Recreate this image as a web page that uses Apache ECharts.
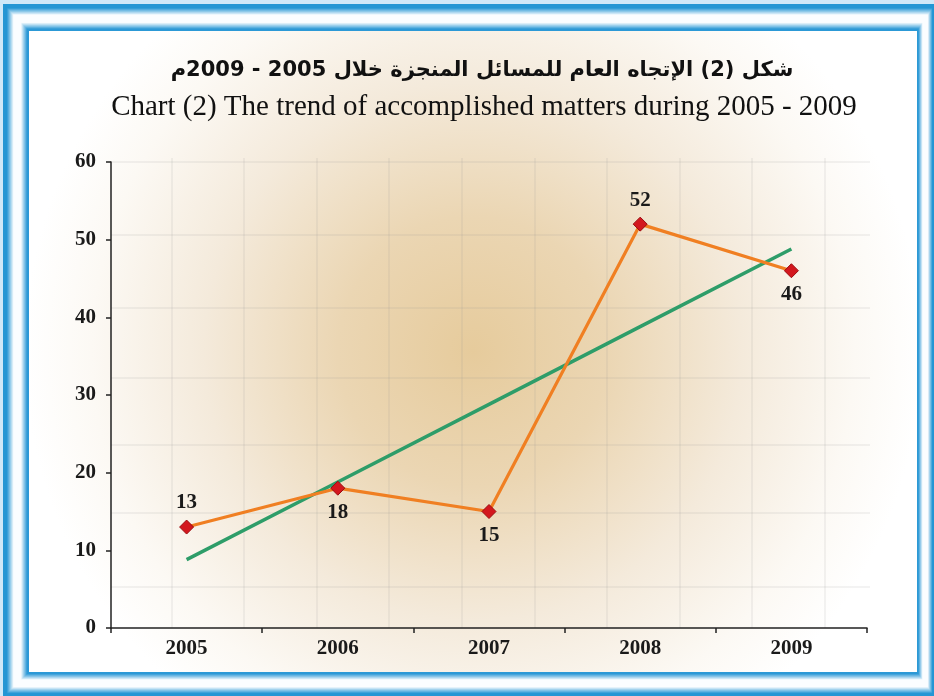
<!DOCTYPE html>
<html>
<head>
<meta charset="utf-8">
<script src="https://cdn.jsdelivr.net/npm/echarts@6/dist/echarts.min.js"></script>
<style>
html,body{margin:0;padding:0;background:#cfe8f8;}
#chart{width:934px;height:696px;}
</style>
</head>
<body>
<div id="chart"></div>
<script>
// ---- data ----
const years = ['2005', '2006', '2007', '2008', '2009'];
const accomplished = [13, 18, 15, 52, 46];
const trend = [8.8, 18.8, 28.8, 38.8, 48.8];
const yTicks = { min: 0, max: 60, interval: 10 };
const titleAr = 'شكل (2) الإتجاه العام للمسائل المنجزة خلال 2005 - 2009م';
const titleEn = 'Chart (2) The trend of accomplished matters during 2005 - 2009';

// ---- decoration ----
const chart = echarts.init(document.getElementById('chart'), null, { renderer: 'canvas' });
const graphics = [];

function lerp(a, b, t) { return a + (b - a) * t; }
function mix(c1, c2, t) {
  const p = c => [parseInt(c.slice(1,3),16), parseInt(c.slice(3,5),16), parseInt(c.slice(5,7),16)];
  const a = p(c1), b = p(c2);
  return 'rgb(' + a.map((v, i) => Math.round(lerp(v, b[i], t))).join(',') + ')';
}
function profile(t) {
  const blue = '#2596d4', white = '#fbfdff';
  if (t < 0.14) return blue;
  if (t < 0.40) return mix(blue, white, (t - 0.14) / 0.26);
  if (t < 0.68) return white;
  if (t < 0.92) return mix(white, '#2d99d6', (t - 0.68) / 0.24);
  return '#2d99d6';
}
const N = 60;
for (let i = 0; i <= N; i++) {
  const t = i / N;
  const l = lerp(3, 29, t), tp = lerp(4, 31, t), r = lerp(935, 917, t), b = lerp(697, 672, t);
  graphics.push({ type: 'rect', z: -20, silent: true,
    shape: { x: l, y: tp, width: r - l, height: b - tp },
    style: { fill: profile(t) } });
}
// inner radial glow
graphics.push({ type: 'rect', z: -19, silent: true,
  shape: { x: 29, y: 31, width: 888, height: 641 },
  style: { fill: { type: 'radial', x: 0.5, y: 0.5, r: 0.7,
    colorStops: [
      { offset: 0, color: '#e6cb9c' },
      { offset: 0.3, color: '#ebd6b3' },
      { offset: 0.6, color: '#f4eadb' },
      { offset: 0.85, color: '#fcf9f4' },
      { offset: 1, color: '#ffffff' }] } } });
// faint background paper grid
const gx = [172, 244, 317, 389, 462, 535, 607, 680, 752, 825];
const gy = [162, 235, 308, 378, 445, 513, 587];
gx.forEach(x => graphics.push({ type: 'line', z: -18, silent: true,
  shape: { x1: x, y1: 158, x2: x, y2: 628 }, style: { stroke: 'rgba(150,150,150,0.11)', lineWidth: 2 } }));
gy.forEach(y => graphics.push({ type: 'line', z: -18, silent: true,
  shape: { x1: 111, y1: y, x2: 870, y2: y }, style: { stroke: 'rgba(150,150,150,0.11)', lineWidth: 2 } }));
// titles
graphics.push({ type: 'text', z: 10, x: 482, y: 71, style: { text: titleAr, fill: '#111',
  font: 'bold 21px "DejaVu Sans"', align: 'center', verticalAlign: 'middle' } });
graphics.push({ type: 'text', z: 10, x: 484, y: 107, style: { text: titleEn, fill: '#111',
  font: '29px "Liberation Serif"', align: 'center', verticalAlign: 'middle' } });

const labelFont = { fontFamily: 'Liberation Serif', fontWeight: 'bold', fontSize: 21, color: '#1a1a1a' };
const below = [false, true, true, false, true];

const option = {
  animation: false,
  graphic: graphics,
  grid: { left: 111, right: 67, top: 162, bottom: 68, containLabel: false },
  xAxis: {
    type: 'category', data: years, boundaryGap: true,
    axisLine: { lineStyle: { color: '#222', width: 1.5 } },
    axisTick: { show: true, length: 5, lineStyle: { color: '#222', width: 1.5 } },
    axisLabel: Object.assign({ margin: 10 }, labelFont),
    splitLine: { show: false }
  },
  yAxis: {
    type: 'value', min: yTicks.min, max: yTicks.max, interval: yTicks.interval,
    axisLine: { show: true, lineStyle: { color: '#222', width: 1.5 } },
    axisTick: { show: true, length: 5, lineStyle: { color: '#222', width: 1.5 } },
    axisLabel: Object.assign({ margin: 15 }, labelFont),
    splitLine: { show: false }
  },
  series: [
    { type: 'line', name: 'trend', data: trend, symbol: 'none', z: 2,
      lineStyle: { color: '#2e9d69', width: 3.5 } },
    { type: 'line', name: 'accomplished', z: 3,
      data: accomplished.map((v, i) => ({ value: v,
        label: { position: below[i] ? 'bottom' : 'top' } })),
      symbol: 'diamond', symbolSize: 14,
      lineStyle: { color: '#f07f22', width: 3.2 },
      itemStyle: { color: '#d3171e', borderColor: '#9b0c10', borderWidth: 1 },
      label: Object.assign({ show: true, distance: 6 }, labelFont) }
  ]
};
chart.setOption(option);
</script>
</body>
</html>
